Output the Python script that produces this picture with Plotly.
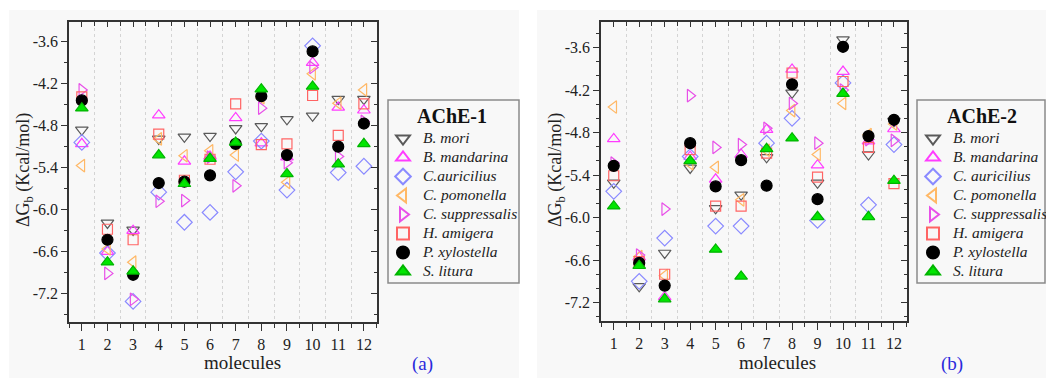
import plotly.graph_objects as go

W, H = 1046, 378

molecules = list(range(1, 13))
species1 = ["B. mori", "B. mandarina", "C.auricilius", "C. pomonella",
            "C. suppressalis", "H. amigera", "P. xylostella", "S. litura"]
species2 = ["B. mori", "B. mandarina", "C. auricilius", "C. pomonella",
            "C. suppressalis", "H. amigera", "P. xylostella", "S. litura"]

# AChE-1 (panel a)
a1_b_mori = [-4.86, -6.19, -6.29, -4.99, -4.96, -4.95, -4.84, -4.81, -4.71, -4.66, -4.42, -4.42]
a1_b_mandarina = [-5.06, -6.60, -6.30, -4.65, -5.31, -5.24, -4.69, -5.05, -5.25, -3.90, -4.54, -4.58]
a1_c_auricilius = [-5.04, -6.62, -7.31, -5.75, -6.18, -6.04, -5.46, -5.02, -5.72, -3.66, -5.47, -5.38]
a1_c_pomonella = [-5.37, -6.56, -6.75, -4.99, -5.23, -5.16, -5.22, -4.40, -5.61, -4.06, -4.48, -4.29]
a1_c_suppressalis = [-4.29, -6.91, -7.28, -5.88, -5.87, -5.25, -5.66, -4.55, -5.33, -3.97, -5.24, -4.74]
a1_h_amigera = [-4.39, -6.28, -6.43, -4.92, -5.58, -5.28, -4.49, -5.07, -5.06, -4.37, -4.94, -4.49]
a1_p_xylostella = [-4.44, -6.43, -6.93, -5.62, -5.60, -5.51, -5.06, -4.38, -5.22, -3.74, -5.10, -4.77]
a1_s_litura = [-4.55, -6.75, -6.88, -5.22, -5.63, -5.27, -5.04, -4.28, -5.49, -4.24, -5.35, -5.06]

# AChE-2 (panel b)
a2_b_mori = [-5.51, -6.97, -6.50, -5.30, -5.87, -5.68, -5.15, -4.24, -5.51, -3.49, -5.11, -4.64]
a2_b_mandarina = [-4.89, -6.56, -7.12, -5.14, -5.46, -5.11, -4.76, -3.91, -5.26, -3.94, -4.92, -4.75]
a2_c_auricilius = [-5.63, -6.90, -6.29, -5.14, -6.12, -6.12, -4.95, -4.60, -6.04, -4.10, -5.82, -4.97]
a2_c_pomonella = [-4.44, -6.55, -6.82, -5.24, -5.29, -5.75, -5.05, -4.49, -5.11, -4.39, -4.83, -4.68]
a2_c_suppressalis = [-5.23, -6.53, -5.88, -4.28, -5.01, -4.97, -4.74, -4.39, -4.95, -4.20, -4.90, -4.91]
a2_h_amigera = [-5.41, -6.62, -6.80, -5.04, -5.84, -5.84, -5.09, -3.96, -5.43, -4.08, -5.01, -5.52]
a2_p_xylostella = [-5.27, -6.64, -6.96, -4.95, -5.56, -5.19, -5.55, -4.12, -5.74, -3.59, -4.85, -4.62]
a2_s_litura = [-5.84, -6.68, -7.15, -5.20, -6.45, -6.83, -5.03, -4.88, -5.99, -4.25, -5.99, -5.48]

series1 = [a1_b_mori, a1_b_mandarina, a1_c_auricilius, a1_c_pomonella,
           a1_c_suppressalis, a1_h_amigera, a1_p_xylostella, a1_s_litura]
series2 = [a2_b_mori, a2_b_mandarina, a2_c_auricilius, a2_c_pomonella,
           a2_c_suppressalis, a2_h_amigera, a2_p_xylostella, a2_s_litura]

ytick_vals = [-3.6, -4.2, -4.8, -5.4, -6.0, -6.6, -7.2]
ytick_text = ["-3.6", "-4.2", "-4.8", "-5.4", "-6.0", "-6.6", "-7.2"]
xtick_text = [str(m) for m in molecules]

styles = [
    dict(symbol="triangle-down-open", color="#5a5a5a", line="#5a5a5a", size=11),
    dict(symbol="triangle-up-open", color="#ff3cff", line="#ff3cff", size=11),
    dict(symbol="diamond-open", color="#8a8aff", line="#8a8aff", size=12),
    dict(symbol="triangle-left-open", color="#ffb866", line="#ffb866", size=11),
    dict(symbol="triangle-right-open", color="#e850e8", line="#e850e8", size=11),
    dict(symbol="square-open", color="#ff6464", line="#ff6464", size=10),
    dict(symbol="circle", color="#000000", line="#000000", size=11),
    dict(symbol="triangle-up", color="#00e600", line="#00b400", size=11),
]

SERIF = "Liberation Serif"


def px_x(p):
    return p / W


def px_y(p):
    return 1 - p / H


def legend_name(n):
    return "<span style='font-size:15.5px'><i>%s</i></span>" % n


fig = go.Figure()

for i, (name, vals) in enumerate(zip(species1, series1)):
    s = styles[i]
    fig.add_trace(go.Scatter(
        x=molecules, y=vals, mode="markers", name=legend_name(name),
        xaxis="x", yaxis="y", legend="legend",
        marker=dict(symbol=s["symbol"], color=s["color"], size=s["size"],
                    line=dict(color=s["line"], width=1.2)),
    ))
for i, (name, vals) in enumerate(zip(species2, series2)):
    s = styles[i]
    fig.add_trace(go.Scatter(
        x=molecules, y=vals, mode="markers", name=legend_name(name),
        xaxis="x2", yaxis="y2", legend="legend2",
        marker=dict(symbol=s["symbol"], color=s["color"], size=s["size"],
                    line=dict(color=s["line"], width=1.2)),
    ))

AX = "#333333"
dom_x1 = [px_x(69), px_x(376.7)]
dom_x2 = [px_x(601), px_x(906.7)]
dom_y1 = [px_y(321.7), px_y(22)]
dom_y2 = [px_y(321), px_y(22)]
xr = [0.5, 12.5]
yr1 = [-7.6, -3.32]
yr2 = [-7.46, -3.24]


def xaxis_main(domain, anchor):
    return dict(domain=domain, anchor=anchor, range=xr, tickmode="array",
                tickvals=molecules, ticktext=xtick_text, ticks="outside",
                ticklen=7, tickwidth=1.3, tickcolor=AX, showline=True,
                linecolor=AX, linewidth=1.6, mirror=True, showgrid=False,
                zeroline=False,
                tickfont=dict(family=SERIF, size=16, color="#222"),
                minor=dict(tick0=0.5, dtick=1, ticks="outside", ticklen=4,
                           tickwidth=1.2, tickcolor=AX, showgrid=True,
                           gridcolor="#d4d4d4", griddash="dot", gridwidth=1))


def xaxis_top(overlay, anchor):
    return dict(overlaying=overlay, anchor=anchor, side="top", range=xr,
                tickmode="array", tickvals=molecules, ticks="inside",
                ticklen=5, tickwidth=1.3, tickcolor=AX, showticklabels=False,
                showline=False, showgrid=False, zeroline=False,
                minor=dict(tick0=0.5, dtick=1, ticks="inside", ticklen=4,
                           tickwidth=1.2, tickcolor=AX, showgrid=False))


def yaxis_main(domain, anchor, yr, minor_dt):
    return dict(domain=domain, anchor=anchor, range=yr, tickmode="array",
                tickvals=ytick_vals, ticktext=ytick_text, ticks="outside",
                ticklen=6, tickwidth=1.3, tickcolor=AX, showline=True,
                linecolor=AX, linewidth=1.6, mirror=True, showgrid=False,
                zeroline=False,
                tickfont=dict(family=SERIF, size=16, color="#222"),
                minor=dict(tick0=-3.6, dtick=minor_dt, ticks="outside",
                           ticklen=3, tickwidth=1.2, tickcolor=AX,
                           showgrid=False))


def yaxis_right(overlay, anchor, yr, minor_dt):
    return dict(overlaying=overlay, anchor=anchor, side="right", range=yr,
                tickmode="array", tickvals=ytick_vals, ticks="inside",
                ticklen=6, tickwidth=1.3, tickcolor=AX, showticklabels=False,
                showline=False, showgrid=False, zeroline=False,
                minor=dict(tick0=-3.6, dtick=minor_dt, ticks="inside",
                           ticklen=3, tickwidth=1.2, tickcolor=AX,
                           showgrid=False))


# empty helper traces so the mirrored tick axes are drawn
fig.add_trace(go.Scatter(x=[], y=[], xaxis="x3", yaxis="y3", showlegend=False, hoverinfo="skip"))
fig.add_trace(go.Scatter(x=[], y=[], xaxis="x4", yaxis="y4", showlegend=False, hoverinfo="skip"))

fig.update_layout(
    width=W, height=H,
    margin=dict(l=0, r=0, t=0, b=0, autoexpand=False),
    paper_bgcolor="white", plot_bgcolor="rgba(0,0,0,0)",
    font=dict(family=SERIF, color="#222"),
    xaxis=xaxis_main(dom_x1, "y"),
    yaxis=yaxis_main(dom_y1, "x", yr1, 0.3),
    xaxis2=xaxis_main(dom_x2, "y2"),
    yaxis2=yaxis_main(dom_y2, "x2", yr2, 0.2),
    xaxis3=dict(xaxis_top("x", "y3"), domain=dom_x1),
    yaxis3=dict(yaxis_right("y", "x3", yr1, 0.3), domain=dom_y1),
    xaxis4=dict(xaxis_top("x2", "y4"), domain=dom_x2),
    yaxis4=dict(yaxis_right("y2", "x4", yr2, 0.2), domain=dom_y2),
    legend=dict(x=px_x(383), y=px_y(124), xanchor="left", yanchor="top",
                bgcolor="rgba(0,0,0,0)", borderwidth=0,
                font=dict(family=SERIF, size=12, color="#222"),
                tracegroupgap=0, itemsizing="constant"),
    legend2=dict(x=px_x(913), y=px_y(124), xanchor="left", yanchor="top",
                 bgcolor="rgba(0,0,0,0)", borderwidth=0,
                 font=dict(family=SERIF, size=12, color="#222"),
                 tracegroupgap=0, itemsizing="constant"),
    showlegend=True,
)

shapes = [
    # panel backgrounds
    dict(type="rect", xref="paper", yref="paper", x0=px_x(9), x1=px_x(519),
         y0=px_y(378), y1=px_y(10), fillcolor="#f8f8f8", line=dict(width=0),
         layer="below"),
    dict(type="rect", xref="paper", yref="paper", x0=px_x(537), x1=px_x(1046),
         y0=px_y(378), y1=px_y(10), fillcolor="#f8f8f8", line=dict(width=0),
         layer="below"),
    # legend boxes
    dict(type="rect", xref="paper", yref="paper", x0=px_x(388), x1=px_x(519),
         y0=px_y(283), y1=px_y(100), fillcolor="rgba(0,0,0,0)",
         line=dict(color="#8a8a8a", width=1.5), layer="above"),
    dict(type="rect", xref="paper", yref="paper", x0=px_x(917), x1=px_x(1045),
         y0=px_y(283), y1=px_y(100), fillcolor="rgba(0,0,0,0)",
         line=dict(color="#8a8a8a", width=1.5), layer="above"),
]
fig.update_layout(shapes=shapes)

ann = []
ytitle = "ΔG<sub>b</sub> (Kcal/mol)"
ann.append(dict(text=ytitle, xref="paper", yref="paper", x=px_x(24), y=px_y(170),
                textangle=-90, showarrow=False, xanchor="center", yanchor="middle",
                font=dict(family=SERIF, size=18, color="#222")))
ann.append(dict(text=ytitle, xref="paper", yref="paper", x=px_x(556), y=px_y(170),
                textangle=-90, showarrow=False, xanchor="center", yanchor="middle",
                font=dict(family=SERIF, size=18, color="#222")))
for xc in (242, 777):
    ann.append(dict(text="molecules", xref="paper", yref="paper", x=px_x(xc), y=px_y(362),
                    showarrow=False, xanchor="center", yanchor="middle",
                    font=dict(family=SERIF, size=19, color="#222")))
for xc, lab in ((422, "(a)"), (952, "(b)")):
    ann.append(dict(text=lab, xref="paper", yref="paper", x=px_x(xc), y=px_y(364),
                    showarrow=False, xanchor="center", yanchor="middle",
                    font=dict(family=SERIF, size=19, color="#2a2adc")))
for xc, lab in ((452, "AChE-1"), (982, "AChE-2")):
    ann.append(dict(text="<b>%s</b>" % lab, xref="paper", yref="paper", x=px_x(xc), y=px_y(116),
                    showarrow=False, xanchor="center", yanchor="middle",
                    font=dict(family=SERIF, size=20, color="#111")))
fig.update_layout(annotations=ann)

fig.write_html("out.html", config={"displayModeBar": False},
               post_script="document.body.style.margin='0';document.body.style.padding='0';")
